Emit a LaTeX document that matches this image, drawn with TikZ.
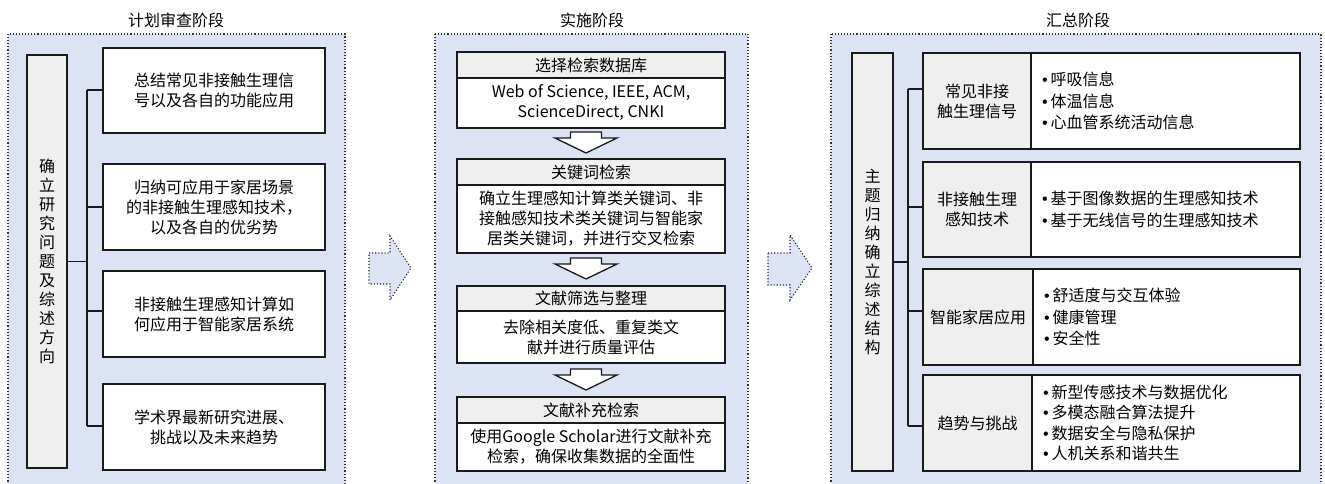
\documentclass[tikz,border=0pt]{standalone}
\usepackage{fontspec}
\setmainfont{Noto Sans CJK SC}
\newfontfamily\bulfont{Liberation Sans}
\newcommand\bul{{\bulfont •}\hspace{3pt}}
\definecolor{panelblue}{HTML}{DCE3F5}
\definecolor{cellgray}{HTML}{EFEFEF}
\definecolor{edgecol}{HTML}{1A1A1A}
\begin{document}
\begin{tikzpicture}[x=1pt,y=-1pt,
  panel/.style={draw=black!80, dotted, line width=1.1pt, fill=panelblue},
  ttl/.style={font=\fontsize{16}{20}\selectfont, inner sep=0pt},
  box/.style={draw=edgecol, line width=1.4pt, fill=white, anchor=north west,
    inner sep=0pt, outer sep=0pt, align=center, font=\fontsize{16}{20}\selectfont},
  hdr/.style={box, fill=cellgray},
  vbox/.style={box, fill=cellgray, font=\fontsize{16}{19}\selectfont},
  lst/.style={box, align=left, inner xsep=11pt, text width=247pt, font=\fontsize{16}{21.5}\selectfont},
  conn/.style={draw=edgecol, line width=1.4pt},
  blockarr/.style={draw=black!85, dotted, line width=1.1pt, fill=panelblue},
  downarr/.pic={\draw[draw=edgecol, line width=1.3pt, fill=white, line join=miter]
    (-15.5,0)--(15.5,0)--(15.5,6)--(31,6)--(0,21)--(-31,6)--(-15.5,6)--cycle;}
]
\useasboundingbox (0,0) rectangle (1325,484);
% panels
\path[panel] (8,34) rectangle (345,495);
\path[panel] (435,34) rectangle (748,495);
\path[panel] (831,34) rectangle (1321,495);
\node[ttl] (T1) at (176,20) {计划审查阶段};
\node[ttl] (T2) at (592,20) {实施阶段};
\node[ttl] (T3) at (1078,20) {汇总阶段};

% ---------------- left panel
\node[vbox, minimum width=40, minimum height=413] (L0) at (27,55)
  {确\\立\\研\\究\\问\\题\\及\\综\\述\\方\\向};
\node[box, minimum width=222, minimum height=85] (L1) at (103,48)
  {总结常见非接触生理信\\号以及各自的功能应用};
\node[box, minimum width=222, minimum height=86] (L2) at (103,164)
  {归纳可应用于家居场景\\的非接触生理感知技术，\\以及各自的优劣势};
\node[box, minimum width=222, minimum height=86] (L3) at (103,271)
  {非接触生理感知计算如\\何应用于智能家居系统};
\node[box, minimum width=222, minimum height=86] (L4) at (103,384)
  {学术界最新研究进展、\\挑战以及未来趋势};
\coordinate (LT1) at (87,90);
\coordinate (LT2) at (87,207);
\coordinate (LT3) at (87,311);
\coordinate (LT4) at (87,426);
\draw[conn] (L0.east) -- (L0.east -| LT1);
\draw[conn] (LT1) -- (LT4);
\draw[conn] (LT1) -- (LT1 -| L1.west);
\draw[conn] (LT2) -- (LT2 -| L2.west);
\draw[conn] (LT3) -- (LT3 -| L3.west);
\draw[conn] (LT4) -- (LT4 -| L4.west);

% block arrows between panels
\draw[blockarr] (369,253)--(390,253)--(390,236)--(411,268)--(390,300)--(390,284)--(369,284)--cycle;
\draw[blockarr] (768,253)--(790,253)--(790,235)--(812,268)--(790,300)--(790,285)--(768,285)--cycle;

% ---------------- middle panel
\node[hdr, minimum width=268, minimum height=26] (M1h) at (457,52) {选择检索数据库};
\node[box, minimum width=268, minimum height=50] (M1b) at (457,78)
  {Web of Science, IEEE, ACM,\\ScienceDirect, CNKI};
\node[hdr, minimum width=268, minimum height=26] (M2h) at (457,159) {关键词检索};
\node[box, minimum width=268, minimum height=68] (M2b) at (457,185)
  {确立生理感知计算类关键词、非\\接触感知技术类关键词与智能家\\居类关键词，并进行交叉检索};
\node[hdr, minimum width=268, minimum height=25] (M3h) at (457,286) {文献筛选与整理};
\node[box, minimum width=268, minimum height=52] (M3b) at (457,311)
  {去除相关度低、重复类文\\献并进行质量评估};
\node[hdr, minimum width=268, minimum height=26] (M4h) at (457,397) {文献补充检索};
\node[box, minimum width=268, minimum height=48] (M4b) at (457,423)
  {使用Google Scholar进行文献补充\\检索，确保收集数据的全面性};
\pic at (586,132) {downarr};
\pic at (586,258) {downarr};
\pic at (586,369) {downarr};

% ---------------- right panel
\node[vbox, minimum width=41, minimum height=418] (R0) at (852,53)
  {主\\题\\归\\纳\\确\\立\\综\\述\\结\\构};
\node[hdr, minimum width=108, minimum height=96] (R1a) at (923,53) {常见非接\\触生理信号};
\node[lst, minimum height=96] (R1b) at (1031,53)
  {\bul 呼吸信息\\\bul 体温信息\\\bul 心血管系统活动信息};
\node[hdr, minimum width=108, minimum height=95] (R2a) at (923,162) {非接触生理\\感知技术};
\node[lst, minimum height=95] (R2b) at (1031,162)
  {\bul 基于图像数据的生理感知技术\\\bul 基于无线信号的生理感知技术};
\node[hdr, minimum width=110, minimum height=96] (R3a) at (923,269) {智能家居应用};
\node[lst, minimum height=96, text width=245pt] (R3b) at (1033,269)
  {\bul 舒适度与交互体验\\\bul 健康管理\\\bul 安全性};
\node[hdr, minimum width=109, minimum height=96] (R4a) at (923,375) {趋势与挑战};
\node[lst, minimum height=96, text width=246pt, font=\fontsize{16}{20.5}\selectfont] (R4b) at (1032,375)
  {\bul 新型传感技术与数据优化\\\bul 多模态融合算法提升\\\bul 数据安全与隐私保护\\\bul 人机关系和谐共生};
\coordinate (RT1) at (908,89);
\coordinate (RT2) at (908,207);
\coordinate (RT3) at (908,311);
\coordinate (RT4) at (908,426);
\draw[conn] (R0.east) -- (R0.east -| RT1);
\draw[conn] (RT1) -- (RT4);
\draw[conn] (RT1) -- (RT1 -| R1a.west);
\draw[conn] (RT2) -- (RT2 -| R2a.west);
\draw[conn] (RT3) -- (RT3 -| R3a.west);
\draw[conn] (RT4) -- (RT4 -| R4a.west);
\end{tikzpicture}
\end{document}
